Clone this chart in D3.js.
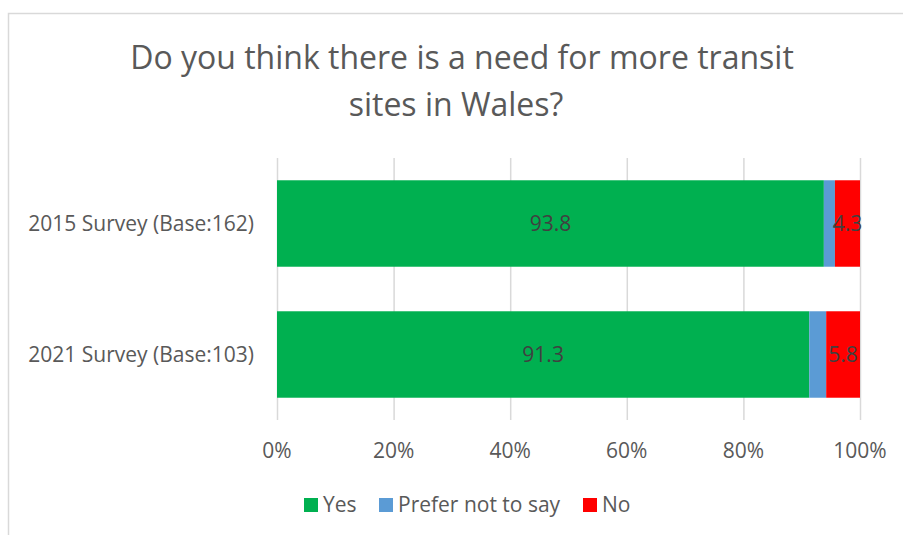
<!DOCTYPE html>
<html>
<head>
<meta charset="utf-8">
<script src="https://cdn.jsdelivr.net/npm/d3@7"></script>
<style>
	body { margin: 0; background: #fff; }
	text { font-family: "Open Sans", "Noto Sans", sans-serif; fill: #595959; }
</style>
</head>
<body>
<div id="chart"></div>
<script>

// data
// ----------------------------------------

var categories = ["2015 Survey (Base:162)", "2021 Survey (Base:103)"];
var yes = [93.8, 91.3];
var prefer = [1.9, 2.9];
var no = [4.3, 5.8];
var series_names = ["Yes", "Prefer not to say", "No"];
var series_colors = ["#00b050", "#5b9bd5", "#ff0000"];
var tick_values = [0, 20, 40, 60, 80, 100];
var title_lines = ["Do you think there is a need for more transit", "sites in Wales?"];

// main variables
// ----------------------------------------

var width = 903, height = 535;
var margin = {top: 158, right: 43, bottom: 115, left: 277};
var font_size = "21px";

var svg = d3.select("#chart")
	.append("svg")
	.attr("width", width)
	.attr("height", height);

// chart border
svg.append("rect")
	.attr("x", 8.5)
	.attr("y", 13.5)
	.attr("width", width + 10)
	.attr("height", height + 10)
	.attr("fill", "none")
	.attr("stroke", "#d9d9d9")
	.attr("stroke-width", 1.5);

var x = d3.scaleLinear()
	.domain([0, 100])
	.range([margin.left, width - margin.right]);

var y = d3.scaleBand()
	.domain(categories)
	.range([margin.top, 420])
	.paddingInner(0.34)
	.paddingOuter(0.17);

// title
svg.append("g")
	.selectAll("text")
	.data(title_lines)
	.enter()
	.append("text")
	.attr("x", function(d, i){ return i == 0 ? 462 : 456; })
	.attr("y", function(d, i){ return 69 + i * 47; })
	.attr("text-anchor", "middle")
	.style("font-size", "32px")
	.text(function(d){ return d; });

// grid
svg.append("g")
	.attr("class", "grid")
	.selectAll("line")
	.data(tick_values)
	.enter()
	.append("line")
	.attr("x1", function(d){ return x(d) + 0.5; })
	.attr("x2", function(d){ return x(d) + 0.5; })
	.attr("y1", margin.top)
	.attr("y2", 420)
	.attr("stroke", "#d9d9d9")
	.attr("stroke-width", 1.5);

// x tick labels
svg.append("g")
	.selectAll("text")
	.data(tick_values)
	.enter()
	.append("text")
	.attr("x", function(d){ return x(d); })
	.attr("y", 458)
	.attr("text-anchor", "middle")
	.style("font-size", font_size)
	.text(function(d){ return d + "%"; });

// stack
var rows = categories.map(function(c, i){
	return {cat: c, "Yes": yes[i], "Prefer not to say": prefer[i], "No": no[i]};
});
var stacked = d3.stack().keys(series_names)(rows);

var layers = svg.append("g")
	.selectAll("g")
	.data(stacked)
	.enter()
	.append("g")
	.attr("fill", function(d, i){ return series_colors[i]; });

layers.selectAll("rect")
	.data(function(d){ return d; })
	.enter()
	.append("rect")
	.attr("x", function(d){ return x(d[0]); })
	.attr("width", function(d){ return x(d[1]) - x(d[0]); })
	.attr("y", function(d){ return y(d.data.cat); })
	.attr("height", y.bandwidth());

// data labels (Yes and No only)
layers.filter(function(d){ return d.key != "Prefer not to say"; })
	.selectAll("text")
	.data(function(d){ return d; })
	.enter()
	.append("text")
	.attr("x", function(d){ return (x(d[0]) + x(d[1])) / 2; })
	.attr("y", function(d){ return y(d.data.cat) + y.bandwidth() / 2; })
	.attr("dy", "0.35em")
	.attr("text-anchor", "middle")
	.style("font-size", font_size)
	.style("fill", "#404040")
	.text(function(d){ return d3.format(".1f")(d[1] - d[0]); });

// category labels
svg.append("g")
	.selectAll("text")
	.data(categories)
	.enter()
	.append("text")
	.attr("x", 254)
	.attr("y", function(d){ return y(d) + y.bandwidth() / 2; })
	.attr("dy", "0.35em")
	.attr("text-anchor", "end")
	.style("font-size", font_size)
	.text(function(d){ return d; });

// legend
var legend_x = [304, 379, 583];
var legend = svg.append("g")
	.selectAll("g")
	.data(series_names)
	.enter()
	.append("g")
	.attr("transform", function(d, i){ return "translate(" + legend_x[i] + ",498)"; });

legend.append("rect")
	.attr("width", 14)
	.attr("height", 14)
	.attr("fill", function(d, i){ return series_colors[i]; });

legend.append("text")
	.attr("x", 19)
	.attr("y", 7)
	.attr("dy", "0.35em")
	.style("font-size", font_size)
	.text(function(d){ return d; });

</script>
</body>
</html>
